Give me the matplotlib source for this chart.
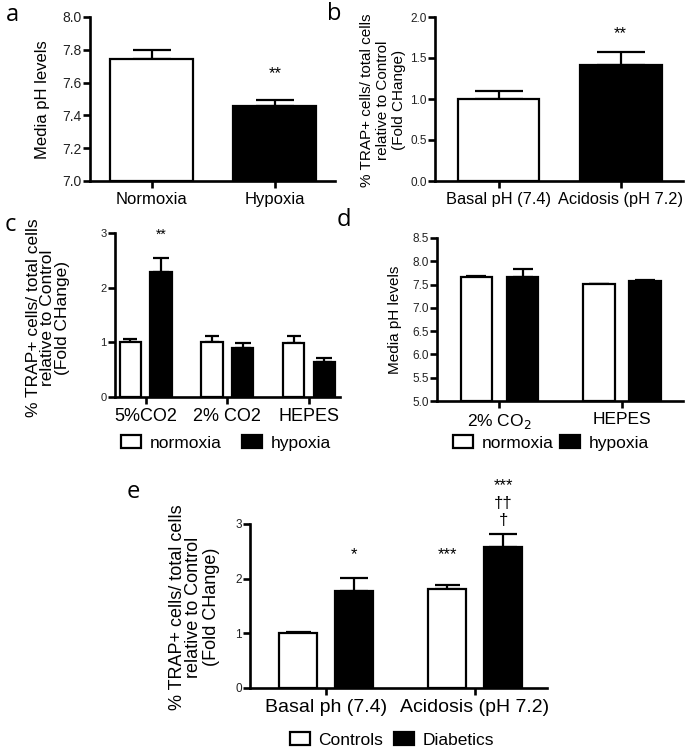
import matplotlib
matplotlib.use("Agg")
import matplotlib.pyplot as plt
from matplotlib.patches import Patch
import numpy as np

plt.rcParams['font.family'] = ['Liberation Sans', 'DejaVu Sans']

# ---- data ----
a_cats = ["Normoxia", "Hypoxia"]
a_vals = [7.745, 7.455]
a_err = [0.055, 0.04]

b_cats = ["Basal pH (7.4)", "Acidosis (pH 7.2)"]
b_vals = [1.0, 1.41]
b_err = [0.10, 0.16]

c_cats = ["5%CO2", "2% CO2", "HEPES"]
c_norm = [1.0, 1.0, 0.98]
c_norm_err = [0.06, 0.12, 0.14]
c_hyp = [2.28, 0.90, 0.64]
c_hyp_err = [0.27, 0.08, 0.08]

d_cats = ["2% CO$_2$", "HEPES"]
d_norm = [7.66, 7.51]
d_norm_err = [0.02, 0.01]
d_hyp = [7.66, 7.57]
d_hyp_err = [0.17, 0.03]

e_cats = ["Basal ph (7.4)", "Acidosis (pH 7.2)"]
e_ctrl = [1.0, 1.82]
e_ctrl_err = [0.02, 0.07]
e_diab = [1.77, 2.58]
e_diab_err = [0.24, 0.24]

W, H = 685, 749
fig = plt.figure(figsize=(W / 100, H / 100), dpi=100)

def ax_px(l, r, b, t):
    return fig.add_axes([l / W, 1 - b / H, (r - l) / W, (b - t) / H])

SPW = 1.9
BLW = 1.6

def style(ax, ytick_size, xtick_size):
    for s in ['top', 'right']:
        ax.spines[s].set_visible(False)
    for s in ['left', 'bottom']:
        ax.spines[s].set_linewidth(SPW)
    ax.tick_params(axis='both', direction='out', width=SPW, length=5, color='black')
    ax.tick_params(axis='y', labelsize=ytick_size, pad=1, labelcolor='#222222')
    ax.tick_params(axis='x', labelsize=xtick_size, pad=3)

# ---- panel a ----
axa = ax_px(90, 335, 181, 17)
xa = np.arange(len(a_cats))
axa.bar(xa, np.array(a_vals) - 7.0, bottom=7.0, width=0.675, color=['white', 'black'],
        edgecolor='black', linewidth=BLW, zorder=2)
axa.errorbar(xa, a_vals, yerr=[np.zeros(2), a_err], fmt='none', ecolor='black',
             elinewidth=BLW, capsize=14, capthick=BLW, zorder=1)
axa.set_ylim(7.0, 8.0)
axa.set_yticks(np.arange(7.0, 8.01, 0.2))
axa.set_yticklabels([f"{v:.1f}" for v in np.arange(7.0, 8.01, 0.2)])
axa.set_xlim(-0.504, 1.488)
axa.set_xticks(xa)
axa.set_xticklabels(a_cats)
style(axa, 10, 12)
axa.text(1, 7.655, "**", ha='center', va='center', fontsize=12)
fig.text(42 / W, 1 - 100 / H, "Media pH levels", rotation=90, ha='center', va='center', fontsize=12)

# ---- panel b ----
axb = ax_px(435, 683, 181, 17)
xb = np.arange(len(b_cats))
axb.bar(xb, b_vals, width=0.67, color=['white', 'black'], edgecolor='black', linewidth=BLW, zorder=2)
axb.errorbar(xb, b_vals, yerr=[np.zeros(2), b_err], fmt='none', ecolor='black',
             elinewidth=BLW, capsize=17, capthick=BLW, zorder=1)
axb.set_ylim(0, 2.0)
axb.set_yticks(np.arange(0, 2.01, 0.5))
axb.set_yticklabels([f"{v:.1f}" for v in np.arange(0, 2.01, 0.5)])
axb.set_xlim(-0.52, 1.51)
axb.set_xticks(xb)
axb.set_xticklabels(b_cats)
style(axb, 8.5, 11.8)
axb.text(1, 1.80, "**", ha='center', va='center', fontsize=12)
fig.text(383 / W, 1 - 100 / H, "% TRAP+ cells/ total cells\nrelative to Control\n(Fold CHange)",
         rotation=90, ha='center', va='center', fontsize=11, linespacing=1.2, multialignment='center')

# ---- panel c ----
axc = ax_px(115, 340, 397, 233)
xc = np.arange(len(c_cats))
off, wc = 0.188, 0.263
axc.bar(xc - off, c_norm, width=wc, color='white', edgecolor='black', linewidth=BLW, zorder=2)
axc.bar(xc + off, c_hyp, width=wc, color='black', edgecolor='black', linewidth=BLW, zorder=2)
axc.errorbar(xc - off, c_norm, yerr=[np.zeros(3), c_norm_err], fmt='none', ecolor='black',
             elinewidth=BLW, capsize=5, capthick=BLW, zorder=1)
axc.errorbar(xc + off, c_hyp, yerr=[np.zeros(3), c_hyp_err], fmt='none', ecolor='black',
             elinewidth=BLW, capsize=6, capthick=BLW, zorder=1)
axc.set_ylim(0, 3)
axc.set_yticks([0, 1, 2, 3])
axc.set_xlim(-0.377, 2.38)
axc.set_xticks(xc)
axc.set_xticklabels(c_cats)
style(axc, 8, 13)
axc.text(0 + off, 2.97, "**", ha='center', va='center', fontsize=10)
fig.text(48 / W, 1 - 318 / H, "% TRAP+ cells/ total cells\nrelative to Control\n(Fold CHange)",
         rotation=90, ha='center', va='center', fontsize=12.5, linespacing=1.0, multialignment='center')

def make_legend(labels, cx, cy, fs, colsp):
    handles = [Patch(facecolor='white', edgecolor='black', linewidth=1.6),
               Patch(facecolor='black', edgecolor='black', linewidth=1.6)]
    fig.legend(handles, labels, loc='center', bbox_to_anchor=(cx / W, 1 - cy / H), ncol=2,
               frameon=False, fontsize=fs, handlelength=1.15, handleheight=0.75,
               handletextpad=0.5, columnspacing=colsp, borderpad=0)

make_legend(["normoxia", "hypoxia"], 226, 443, 12.5, 1.2)

# ---- panel d ----
axd = ax_px(437, 683, 401, 238)
xd = np.arange(len(d_cats))
wd = 0.26
axd.bar(xd - off, np.array(d_norm) - 5, bottom=5, width=wd, color='white', edgecolor='black', linewidth=BLW, zorder=2)
axd.bar(xd + off, np.array(d_hyp) - 5, bottom=5, width=wd, color='black', edgecolor='black', linewidth=BLW, zorder=2)
axd.errorbar(xd - off, d_norm, yerr=[np.zeros(2), d_norm_err], fmt='none', ecolor='black',
             elinewidth=BLW, capsize=7, capthick=BLW, zorder=1)
axd.errorbar(xd + off, d_hyp, yerr=[np.zeros(2), d_hyp_err], fmt='none', ecolor='black',
             elinewidth=BLW, capsize=7, capthick=BLW, zorder=1)
axd.set_ylim(5.0, 8.5)
dt = np.arange(5.0, 8.51, 0.5)
axd.set_yticks(dt)
axd.set_yticklabels([f"{v:.1f}" for v in dt])
axd.set_xlim(-0.51, 1.498)
axd.set_xticks(xd)
axd.set_xticklabels(d_cats)
style(axd, 8.5, 12.5)
fig.text(395 / W, 1 - 320 / H, "Media pH levels", rotation=90, ha='center', va='center', fontsize=11)
make_legend(["normoxia", "hypoxia"], 551, 443, 12.5, 0.35)

# ---- panel e ----
axe = ax_px(250, 547, 688, 524)
xe = np.arange(len(e_cats))
we = 0.255
axe.bar(xe - off, e_ctrl, width=we, color='white', edgecolor='black', linewidth=BLW, zorder=2)
axe.bar(xe + off, e_diab, width=we, color='black', edgecolor='black', linewidth=BLW, zorder=2)
axe.errorbar(xe - off, e_ctrl, yerr=[np.zeros(2), e_ctrl_err], fmt='none', ecolor='black',
             elinewidth=BLW, capsize=9, capthick=BLW, zorder=1)
axe.errorbar(xe + off, e_diab, yerr=[np.zeros(2), e_diab_err], fmt='none', ecolor='black',
             elinewidth=BLW, capsize=10, capthick=BLW, zorder=1)
axe.set_ylim(0, 3)
axe.set_yticks([0, 1, 2, 3])
axe.set_xlim(-0.51, 1.483)
axe.set_xticks(xe)
axe.set_xticklabels(e_cats)
style(axe, 8.5, 14)
axe.text(0 + off, 2.44, "*", ha='center', va='center', fontsize=12)
axe.text(1 - off, 2.44, "***", ha='center', va='center', fontsize=12)
axe.text(1 + off, 3.07, "\u2020", ha='center', va='center', fontsize=12)
axe.text(1 + off, 3.38, "\u2020\u2020", ha='center', va='center', fontsize=12)
axe.text(1 + off, 3.70, "***", ha='center', va='center', fontsize=12)
fig.text(194 / W, 1 - 607 / H, "% TRAP+ cells/ total cells\nrelative to Control\n(Fold CHange)",
         rotation=90, ha='center', va='center', fontsize=13, linespacing=1.0, multialignment='center')
make_legend(["Controls", "Diabetics"], 392, 740, 12.5, 0.6)

# ---- panel letters ----
for letter, x, y in [("a", 12, 15), ("b", 334, 14), ("c", 10, 225), ("d", 344, 220), ("e", 133, 492)]:
    fig.text(x / W, 1 - y / H, letter, ha='center', va='center', fontsize=17,
             family=['Open Sans', 'DejaVu Sans'])

fig.savefig("out.png", dpi=100)
